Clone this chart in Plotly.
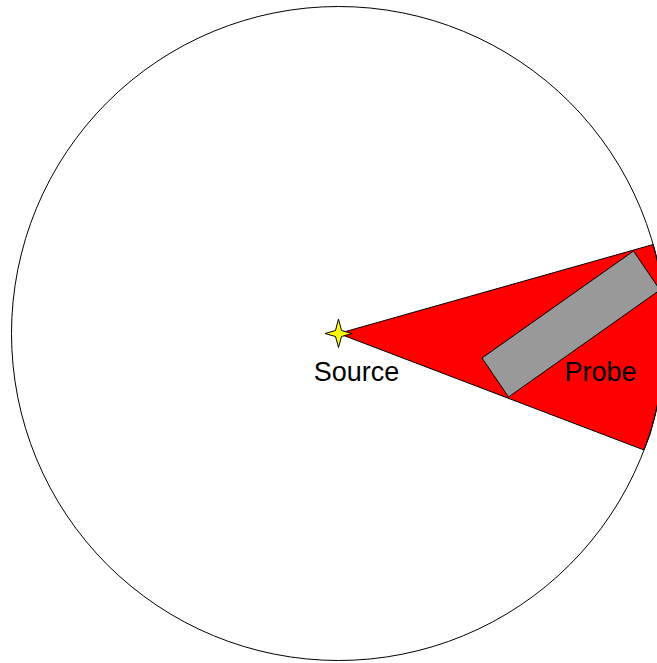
import plotly.graph_objects as go

WIDTH, HEIGHT = 657, 663
circle_x = [11.5, 665.5]
circle_y = [6.5, 660.5]
beam_x = [338.5, 653.2, 657.5, 660.5, 664.3, 665.5, 664.3, 660.5, 654.4, 650.0, 644.0, 338.5]
beam_y = [333.5, 244.5, 261.0, 276.7, 305.0, 333.5, 362.0, 390.3, 418.1, 434.5, 450.0, 333.5]
probe_x = [633.5, 482.0, 508.5, 660.0, 633.5]
probe_y = [251.0, 358.0, 397.0, 290.0, 251.0]
star_x = [325.0, 335.5, 338.5, 341.5, 352.0, 341.5, 338.5, 335.5, 325.0]
star_y = [333.5, 330.5, 319.0, 330.5, 333.5, 336.5, 347.5, 336.5, 333.5]
labels = ["Source", "Probe"]
label_x = [356.5, 600.5]
label_y = [374, 374]

fig = go.Figure()
fig.add_trace(go.Scatter(x=beam_x, y=beam_y, mode="lines", fill="toself",
                         fillcolor="#ff0000", line=dict(color="black", width=1)))
fig.add_trace(go.Scatter(x=probe_x, y=probe_y, mode="lines", fill="toself",
                         fillcolor="#999999", line=dict(color="black", width=1)))
fig.add_trace(go.Scatter(x=star_x, y=star_y, mode="lines", fill="toself",
                         fillcolor="#ffff00", line=dict(color="black", width=1)))
fig.add_trace(go.Scatter(x=label_x, y=label_y, mode="text", text=labels,
                         textposition="middle center",
                         textfont=dict(family="Liberation Sans", size=27, color="black")))
fig.add_shape(type="circle", xref="x", yref="y", x0=circle_x[0], x1=circle_x[1],
              y0=circle_y[0], y1=circle_y[1], line=dict(color="black", width=1),
              layer="above")
fig.update_layout(
    width=WIDTH, height=HEIGHT, showlegend=False,
    margin=dict(l=0, r=0, t=0, b=0),
    paper_bgcolor="white", plot_bgcolor="white",
    xaxis=dict(range=[0, WIDTH], visible=False, fixedrange=True),
    yaxis=dict(range=[HEIGHT, 0], visible=False, fixedrange=True),
)
fig.write_html("out.html", config={"displayModeBar": False},
               post_script="document.body.style.margin='0';document.body.style.overflow='hidden';")
